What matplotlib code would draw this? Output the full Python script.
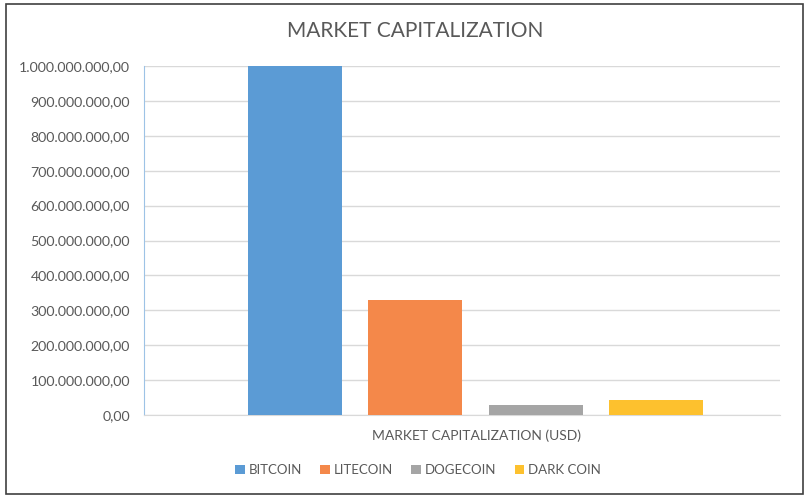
import matplotlib
matplotlib.use("Agg")
import matplotlib.pyplot as plt
from matplotlib.ticker import FuncFormatter, MultipleLocator
from matplotlib.patches import Rectangle

series = ["BITCOIN", "LITECOIN", "DOGECOIN", "DARK COIN"]
values = [1000000000, 330000000, 28000000, 44000000]
colors = ["#5B9BD5", "#F4884A", "#A5A5A5", "#FDC12E"]
category = "MARKET CAPITALIZATION (USD)"
title = "MARKET CAPITALIZATION"

plt.rcParams['font.family'] = ['Lato', 'DejaVu Sans']

fig = plt.figure(figsize=(8.09, 4.96), dpi=100)
ax = fig.add_axes([144/809, 1-415/496, (780-144)/809, (415-66)/496])

spacing = 0.1895
width = 0.148
n = len(series)
for i, (s, v, c) in enumerate(zip(series, values, colors)):
    ax.bar((i - (n-1)/2) * spacing, v, width=width, color=c, label=s, zorder=3)

ax.set_xlim(-0.521, 0.479)
ax.set_ylim(0, 1e9)
ax.yaxis.set_major_locator(MultipleLocator(1e8))

def fmt(v, pos):
    s = f"{v:,.2f}"
    return s.replace(",", "X").replace(".", ",").replace("X", ".")
ax.yaxis.set_major_formatter(FuncFormatter(fmt))
ax.tick_params(axis='y', length=0, labelsize=10.2, labelcolor="#595959", pad=10)
ax.set_xticks([])
ax.grid(axis='y', color="#D9D9D9", linewidth=1, zorder=0)
for sp in ["top", "right"]:
    ax.spines[sp].set_visible(False)
ax.spines["left"].set_color("#9DC3E6")
ax.spines["bottom"].set_color("#D9D9D9")

fig.text(0.5135, 1-31/496, title, ha='center', va='center', fontsize=15, color="#595959")
fig.text(476/809, 1-436/496, category, ha='center', va='center', fontsize=10, color="#595959")

leg = fig.legend(loc='center', bbox_to_anchor=(418/809, 1-470/496), ncol=4, frameon=False,
                 fontsize=9.5, handlelength=0.7, handleheight=0.7, handletextpad=0.3,
                 columnspacing=1.4, labelcolor="#595959")

fig.patches.append(Rectangle((6/809, 2/496), 797/809, 490/496, transform=fig.transFigure,
                             fill=False, edgecolor="#404040", linewidth=1.2))

fig.savefig("out.png", dpi=100)
